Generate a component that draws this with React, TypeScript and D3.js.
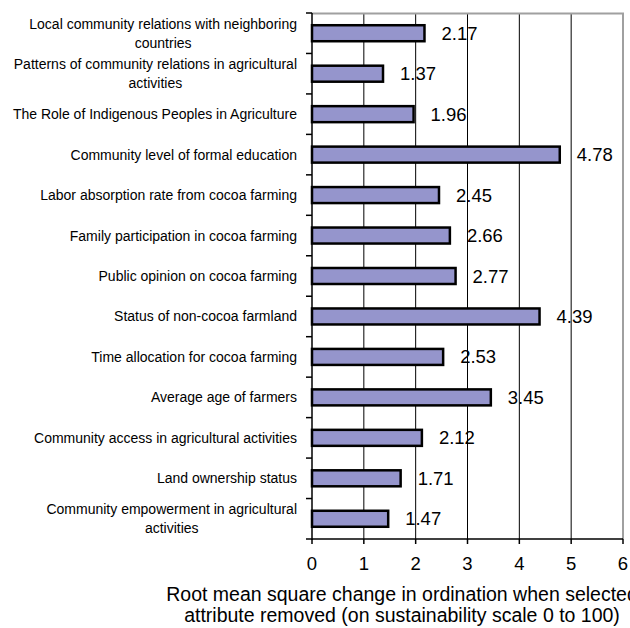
import React, { useRef, useEffect } from "react";
import * as d3 from "d3";

// category labels (top to bottom), split into lines as in the picture
const categories: string[][] = [
  ["Local community relations with neighboring", "countries"],
  ["Patterns of community relations in agricultural", "activities"],
  ["The Role of Indigenous Peoples in Agriculture"],
  ["Community level of formal education"],
  ["Labor absorption rate from cocoa farming"],
  ["Family participation in cocoa farming"],
  ["Public opinion on cocoa farming"],
  ["Status of non-cocoa farmland"],
  ["Time allocation for cocoa farming"],
  ["Average age of farmers"],
  ["Community access in agricultural activities"],
  ["Land ownership status"],
  ["Community empowerment in agricultural", "activities"],
];
const values = [2.17, 1.37, 1.96, 4.78, 2.45, 2.66, 2.77, 4.39, 2.53, 3.45, 2.12, 1.71, 1.47];
const xTicks = [0, 1, 2, 3, 4, 5, 6];
const titleLines = [
  "Root mean square change in ordination when selected",
  "attribute removed (on sustainability scale 0 to 100)",
];

export default function App() {
  const svgRef = useRef<SVGSVGElement>(null);

  useEffect(() => {
    const svg = d3.select(svgRef.current);
    svg.selectAll("*").remove();

    const font = "'Liberation Sans', Arial, sans-serif";
    const left = 312, right = 623, top = 13, bottom = 539;

    const x = d3.scaleLinear().domain([0, 6]).range([left, right]);
    const y = d3.scaleBand<number>().domain(d3.range(values.length)).range([top, bottom]);

    // gridlines
    svg.append("g")
      .selectAll("line")
      .data(xTicks.filter((t) => t > 0 && t < 6))
      .join("line")
      .attr("x1", (d) => x(d)).attr("x2", (d) => x(d))
      .attr("y1", top).attr("y2", bottom)
      .attr("stroke", "#000").attr("stroke-width", 1);

    // gray frame top / right
    svg.append("path")
      .attr("d", `M${left},${top + 0.5}H${right}V${bottom}`)
      .attr("fill", "none").attr("stroke", "#a0a0a0").attr("stroke-width", 2);

    // bars
    const barH = 16;
    svg.append("g")
      .selectAll("rect")
      .data(values)
      .join("rect")
      .attr("x", x(0))
      .attr("y", (_, i) => y(i)! + y.bandwidth() / 2 - barH / 2)
      .attr("width", (d) => x(d) - x(0))
      .attr("height", barH)
      .attr("fill", "#9595cc")
      .attr("stroke", "#000")
      .attr("stroke-width", 2.5);

    // value labels
    svg.append("g")
      .selectAll("text")
      .data(values)
      .join("text")
      .attr("x", (d) => x(d) + 17)
      .attr("y", (_, i) => y(i)! + y.bandwidth() / 2 + 6.5)
      .attr("font-family", font)
      .attr("font-size", 18.5)
      .text((d) => d.toFixed(2));

    // left axis
    const axisL = svg.append("g").attr("stroke", "#000").attr("stroke-width", 1.5);
    axisL.append("line").attr("x1", left).attr("x2", left).attr("y1", top).attr("y2", bottom + 1);
    axisL.selectAll("line.tick")
      .data(d3.range(values.length + 1))
      .join("line")
      .attr("class", "tick")
      .attr("x1", left - 6).attr("x2", left)
      .attr("y1", (i) => top + i * y.step()).attr("y2", (i) => top + i * y.step());

    // bottom axis
    const axisB = svg.append("g").attr("stroke", "#000").attr("stroke-width", 1.5);
    axisB.append("line").attr("x1", left).attr("x2", right).attr("y1", bottom).attr("y2", bottom);
    axisB.selectAll("line.tick")
      .data(xTicks)
      .join("line")
      .attr("class", "tick")
      .attr("x1", (d) => x(d)).attr("x2", (d) => x(d))
      .attr("y1", bottom).attr("y2", bottom + 5);

    svg.append("g")
      .selectAll("text")
      .data(xTicks)
      .join("text")
      .attr("x", (d) => x(d))
      .attr("y", bottom + 31)
      .attr("text-anchor", "middle")
      .attr("font-family", font)
      .attr("font-size", 18.5)
      .text((d) => String(d));

    // category labels: right aligned block, lines centred within the block
    const labelRight = 297;
    const lineGap = 19;
    categories.forEach((lines, i) => {
      const cy = y(i)! + y.bandwidth() / 2;
      const g = svg.append("g");
      const first = g.append("text")
        .attr("font-family", font)
        .attr("font-size", 14)
        .attr("text-anchor", "end")
        .attr("x", labelRight)
        .attr("y", cy + 5 - ((lines.length - 1) * lineGap) / 2)
        .text(lines[0]);
      const w = (first.node() as SVGTextElement).getComputedTextLength();
      lines.slice(1).forEach((ln, j) => {
        g.append("text")
          .attr("font-family", font)
          .attr("font-size", 14)
          .attr("text-anchor", "middle")
          .attr("x", labelRight - w / 2)
          .attr("y", cy + 5 - ((lines.length - 1) * lineGap) / 2 + (j + 1) * lineGap)
          .text(ln);
      });
    });

    // axis title
    svg.append("g")
      .selectAll("text")
      .data(titleLines)
      .join("text")
      .attr("x", 402)
      .attr("y", (_, i) => 601 + i * 21)
      .attr("text-anchor", "middle")
      .attr("font-family", font)
      .attr("font-size", 19.5)
      .text((d) => d);
  }, []);

  return (
    <svg
      ref={svgRef}
      width={630}
      height={628}
      style={{ position: "absolute", left: 0, top: 0, background: "#fff" }}
    ></svg>
  );
}
